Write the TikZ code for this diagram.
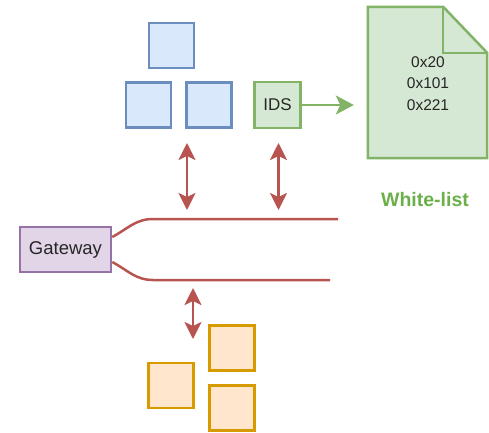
\documentclass[tikz,border=0pt]{standalone}
\usepackage{fontspec}
\setmainfont{Liberation Sans}
\usetikzlibrary{arrows.meta, positioning, calc}
\definecolor{nodeBlueFill}{HTML}{DAE8FC}
\definecolor{nodeBlue}{HTML}{6C8EBF}
\definecolor{idsGreenFill}{HTML}{D5E8D4}
\definecolor{idsGreen}{HTML}{82B366}
\definecolor{listGreen}{HTML}{6AAF4A}
\definecolor{gwPurpleFill}{HTML}{E1D5E7}
\definecolor{gwPurple}{HTML}{9673A6}
\definecolor{ecuOrangeFill}{HTML}{FFE6CC}
\definecolor{ecuOrange}{HTML}{D79B00}
\definecolor{busRed}{HTML}{B85450}
\definecolor{textGray}{HTML}{262626}

\begin{document}
\begin{tikzpicture}[x=1pt, y=-1pt,
    ecu/.style={draw, line width=2.5pt, minimum size=45pt, inner sep=0pt},
    blueecu/.style={ecu, draw=nodeBlue, fill=nodeBlueFill},
    orangeecu/.style={ecu, draw=ecuOrange, fill=ecuOrangeFill},
    bus/.style={draw=busRed, line width=2.5pt},
    link/.style={busRed, line width=2.5pt, {Stealth[length=17pt,width=17pt,inset=4pt]}-{Stealth[length=17pt,width=17pt,inset=4pt]}},
    flow/.style={idsGreen, line width=2.5pt, -{Stealth[length=18pt,width=19pt,inset=4.5pt]}}]
    \useasboundingbox (0,0) rectangle (489,432);
    % blue ECUs
    \node[blueecu] (b1) at (171.5,45.5) {};
    \node[blueecu] (b2) at (148.5,105) {};
    \node[blueecu] (b3) at (209,105) {};
    % IDS and white-list
    \node[ecu, draw=idsGreen, fill=idsGreenFill, minimum size=46pt,
      font=\fontsize{17}{20}\selectfont, text=textGray] (ids) at (277.5,105) {IDS};
    \node[minimum width=119pt, minimum height=151pt, inner sep=0pt] (wl) at (427.5,82.5) {};
    \fill[idsGreenFill, draw=idsGreen, line width=2.5pt, line join=miter]
      (wl.north west) -- ([xshift=-44pt]wl.north east) -- ([yshift=-46pt]wl.north east)
      -- (wl.south east) -- (wl.south west) -- cycle;
    \draw[idsGreen, line width=2.5pt]
      ([xshift=-44pt]wl.north east) |- ([yshift=-46pt]wl.north east);
    \node[align=center, text=textGray, font=\fontsize{15.5}{21.5}\selectfont] (hex) at (428,83.5)
      {0x20\\0x101\\0x221};
    \node[text=listGreen, font=\bfseries\fontsize{19.5}{22}\selectfont] (wlabel) at (425,200) {White-list};
    \draw[flow] (ids.east) -- ([xshift=-14pt]wl.west |- ids.east);
    % gateway and bus
    \node[draw=gwPurple, fill=gwPurpleFill, line width=2.5pt, minimum width=91pt, minimum height=45pt,
      inner sep=0pt, font=\fontsize{18.5}{20}\selectfont, text=textGray] (gw) at (65.5,249.5) {Gateway};
    \coordinate (busHi) at (153,219);
    \coordinate (busHiEnd) at (338,219);
    \coordinate (busLo) at (153,280);
    \coordinate (busLoEnd) at (330,280);
    \draw[bus] ([yshift=12.5pt]gw.east) to[out=28,in=180] (busHi) -- (busHiEnd);
    \draw[bus] ([yshift=-12.5pt]gw.east) to[out=-28,in=180] (busLo) -- (busLoEnd);
    % links to the bus
    \coordinate (l1a) at (187,143);
    \coordinate (l1b) at (187,210);
    \coordinate (l2a) at (278.5,143);
    \coordinate (l2b) at (278.5,210);
    \coordinate (l3a) at (193,288);
    \coordinate (l3b) at (193,339);
    \draw[link] (l1a) -- (l1b);
    \draw[link] (l2a) -- (l2b);
    \draw[link] (l3a) -- (l3b);
    % orange ECUs
    \node[orangeecu] (o1) at (232,348) {};
    \node[orangeecu] (o2) at (232,408) {};
    \node[orangeecu] (o3) at (171,385.5) {};
\end{tikzpicture}
\end{document}
